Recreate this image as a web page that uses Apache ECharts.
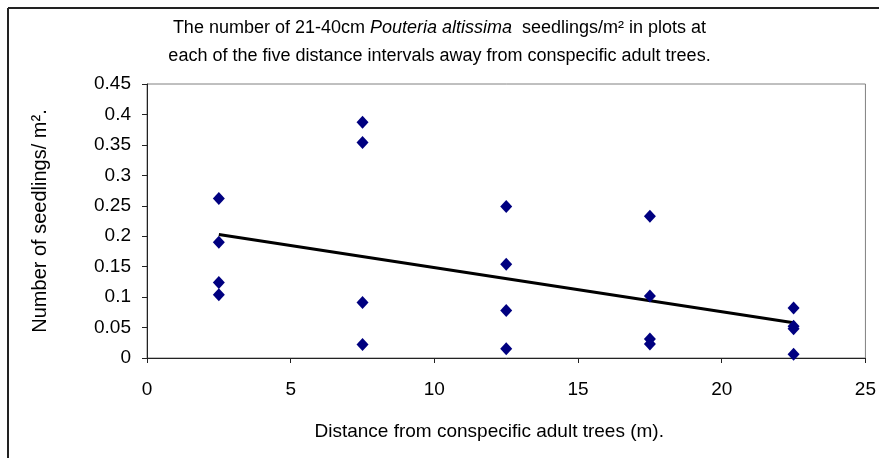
<!DOCTYPE html>
<html>
<head>
<meta charset="utf-8">
<script src="https://cdn.jsdelivr.net/npm/echarts@6/dist/echarts.min.js"></script>
<style>
  html, body { margin: 0; padding: 0; background: #fff; }
  #chart { width: 879px; height: 458px; }
</style>
</head>
<body>
<div id="chart"></div>
<script>
// distances (m) of each plot, and seedlings per m2
var distances = [2.5, 2.5, 2.5, 2.5, 7.5, 7.5, 7.5, 7.5, 12.5, 12.5, 12.5, 12.5,
                 17.5, 17.5, 17.5, 17.5, 22.5, 22.5, 22.5, 22.5];
var seedlings = [0.262, 0.19, 0.124, 0.104, 0.387, 0.354, 0.091, 0.022, 0.249, 0.154, 0.078, 0.015,
                 0.233, 0.102, 0.031, 0.023, 0.082, 0.052, 0.048, 0.006];
// linear trend line end points
var trendX = [2.5, 22.5];
var trendY = [0.203, 0.058];

var font = 'Liberation Sans, Arial, sans-serif';

var points = distances.map(function (d, i) { return [d, seedlings[i]]; });
var trend = trendX.map(function (d, i) { return [d, trendY[i]]; });

var chart = echarts.init(document.getElementById('chart'));

var option = {
    animation: false,
    backgroundColor: '#fff',
    title: {
        left: 'center',
        top: 9,
        text: 'The number of 21-40cm {i|Pouteria altissima}  seedlings/m² in plots at\neach of the five distance intervals away from conspecific adult trees.',
        textStyle: {
            fontFamily: font,
            fontSize: 18,
            fontWeight: 'normal',
            color: '#000',
            lineHeight: 28,
            rich: {
                i: { fontFamily: font, fontSize: 18, fontStyle: 'italic', color: '#000', lineHeight: 28 }
            }
        }
    },
    graphic: [
        { type: 'line', shape: { x1: 8, y1: 8, x2: 879, y2: 8 }, style: { stroke: '#222', lineWidth: 2 } },
        { type: 'line', shape: { x1: 8, y1: 8, x2: 8, y2: 458 }, style: { stroke: '#222', lineWidth: 2 } }
    ],
    grid: {
        left: 147,
        top: 84,
        right: 11,
        bottom: 100,
        show: true,
        borderColor: '#808080',
        borderWidth: 1
    },
    xAxis: {
        type: 'value',
        min: 0,
        max: 25,
        interval: 5,
        name: 'Distance from conspecific adult trees (m).',
        nameLocation: 'middle',
        nameGap: 64,
        nameTextStyle: { fontFamily: font, fontSize: 19, color: '#000', padding: [0, 34, 0, 0] },
        splitLine: { show: false },
        axisLine: { lineStyle: { color: '#222', width: 1 } },
        axisTick: { length: 5, lineStyle: { color: '#222' } },
        axisLabel: { fontFamily: font, fontSize: 19, color: '#000', margin: 22 }
    },
    yAxis: {
        type: 'value',
        min: 0,
        max: 0.45,
        interval: 0.05,
        name: 'Number of seedlings/ m².',
        nameLocation: 'middle',
        nameGap: 97,
        nameTextStyle: { fontFamily: font, fontSize: 20, color: '#000' },
        splitLine: { show: false },
        axisLine: { lineStyle: { color: '#222', width: 1 } },
        axisTick: { length: 5, lineStyle: { color: '#222' } },
        axisLabel: { fontFamily: font, fontSize: 19, color: '#000', margin: 16 }
    },
    series: [
        {
            type: 'line',
            data: trend,
            symbol: 'none',
            lineStyle: { color: '#000', width: 3 },
            z: 2
        },
        {
            type: 'scatter',
            data: points,
            symbol: 'diamond',
            symbolSize: [12, 13],
            itemStyle: { color: '#000080', opacity: 1 },
            z: 3
        }
    ]
};

chart.setOption(option);
</script>
</body>
</html>
